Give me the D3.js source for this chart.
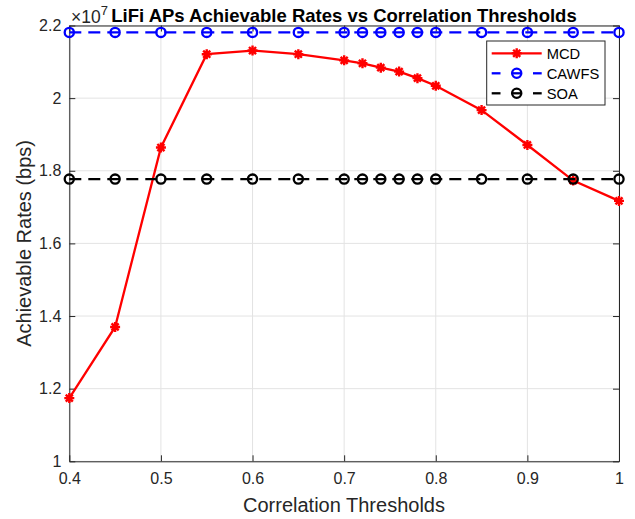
<!DOCTYPE html>
<html lang="en">
<head>
<meta charset="UTF-8">
<script src="https://cdn.jsdelivr.net/npm/d3@7"></script>
<style>
  body { margin: 0; background: #fff; }
  svg { font-family: "Liberation Sans", Arial, Helvetica, sans-serif; }
</style>
<title>LiFi APs Achievable Rates</title>
</head>
<body>
<svg width="635" height="519"></svg>
<script>
// data (rates in bps)
var thresholds = [0.4, 0.45, 0.5, 0.55, 0.6, 0.65, 0.7, 0.72, 0.74, 0.76, 0.78, 0.8, 0.85, 0.9, 0.95, 1.0];
var mcd   = [1.174e7, 1.370e7, 1.864e7, 2.121e7, 2.131e7, 2.121e7, 2.104e7, 2.096e7, 2.084e7, 2.073e7, 2.055e7, 2.034e7, 1.967e7, 1.871e7, 1.773e7, 1.717e7];
var cawfs = [2.181e7, 2.181e7, 2.181e7, 2.181e7, 2.181e7, 2.181e7, 2.181e7, 2.181e7, 2.181e7, 2.181e7, 2.181e7, 2.181e7, 2.181e7, 2.181e7, 2.181e7, 2.181e7];
var soa   = [1.777e7, 1.777e7, 1.777e7, 1.777e7, 1.777e7, 1.777e7, 1.777e7, 1.777e7, 1.777e7, 1.777e7, 1.777e7, 1.777e7, 1.777e7, 1.777e7, 1.777e7, 1.777e7];
var xTicks = [0.4, 0.5, 0.6, 0.7, 0.8, 0.9, 1];
var yTicks = [1e7, 1.2e7, 1.4e7, 1.6e7, 1.8e7, 2e7, 2.2e7];
var seriesNames = ["MCD", "CAWFS", "SOA"];

var svg = d3.select("svg");
var pLeft = 69.3, pRight = 619, pTop = 25.5, pBottom = 461.3;
var axisColor = "#262626";
var lw = 2.3;

var x = d3.scaleLinear().domain([0.4, 1]).range([pLeft, pRight]);
var y = d3.scaleLinear().domain([1e7, 2.2e7]).range([pBottom, pTop]);

// grid
var grid = svg.append("g").attr("stroke", "#e3e3e3").attr("stroke-width", 1);
grid.selectAll(".gx").data(xTicks).enter().append("line")
    .attr("x1", d => x(d)).attr("x2", d => x(d)).attr("y1", pTop).attr("y2", pBottom);
grid.selectAll(".gy").data(yTicks).enter().append("line")
    .attr("y1", d => y(d)).attr("y2", d => y(d)).attr("x1", pLeft).attr("x2", pRight);

// axes (box style, ticks inward)
function styleAxis(g) {
    g.select(".domain").attr("stroke", axisColor);
    g.selectAll(".tick line").attr("stroke", axisColor);
    g.selectAll(".tick text").attr("fill", axisColor).attr("font-size", "16px")
        .attr("font-family", "'Liberation Sans', Arial, sans-serif");
}
svg.append("g").attr("transform", "translate(0," + pBottom + ")")
    .call(d3.axisBottom(x).tickValues(xTicks).tickSize(-6).tickPadding(11).tickSizeOuter(0)
        .tickFormat(d => d === 1 ? "1" : d3.format(".1f")(d)))
    .call(styleAxis);
svg.append("g").attr("transform", "translate(0," + pTop + ")")
    .call(d3.axisTop(x).tickValues(xTicks).tickSize(-6).tickSizeOuter(0).tickFormat(""))
    .call(styleAxis);
svg.append("g").attr("transform", "translate(" + pLeft + ",0)")
    .call(d3.axisLeft(y).tickValues(yTicks).tickSize(-6).tickPadding(8).tickSizeOuter(0)
        .tickFormat(d => { var v = Math.round(d / 1e6) / 10; return v === 1 || v === 2 ? String(v) : v.toFixed(1); }))
    .call(styleAxis);
svg.append("g").attr("transform", "translate(" + pRight + ",0)")
    .call(d3.axisRight(y).tickValues(yTicks).tickSize(-6).tickSizeOuter(0).tickFormat(""))
    .call(styleAxis);

// lines
var series = [
    {name: seriesNames[0], values: mcd, color: "#ff0000", dash: null, marker: "star"},
    {name: seriesNames[1], values: cawfs, color: "#0000ff", dash: "12,7", marker: "circle"},
    {name: seriesNames[2], values: soa, color: "#000000", dash: "12,7", marker: "circle"}
];
var line = d3.line().x(d => x(d[0])).y(d => y(d[1]));

function asterisk(r) {
    var a = r * Math.SQRT1_2;
    return "M" + (-r) + ",0L" + r + ",0M0," + (-r) + "L0," + r +
        "M" + (-a) + "," + (-a) + "L" + a + "," + a + "M" + (-a) + "," + a + "L" + a + "," + (-a);
}
function drawMarker(g, s, cx, cy) {
    if (s.marker === "star") {
        g.append("path").attr("d", asterisk(5)).attr("transform", "translate(" + cx + "," + cy + ")")
            .attr("stroke", s.color).attr("stroke-width", 2.4).attr("fill", "none");
    } else {
        g.append("circle").attr("cx", cx).attr("cy", cy).attr("r", 4.6)
            .attr("stroke", s.color).attr("stroke-width", lw).attr("fill", "none");
    }
}

series.forEach(function (s) {
    var pts = thresholds.map((t, i) => [t, s.values[i]]);
    var g = svg.append("g");
    g.append("path").datum(pts).attr("d", line)
        .attr("fill", "none").attr("stroke", s.color).attr("stroke-width", lw)
        .attr("stroke-dasharray", s.dash);
    pts.forEach(p => drawMarker(g, s, x(p[0]), y(p[1])));
});

// legend
var lg = svg.append("g");
lg.append("rect").attr("x", 486.7).attr("y", 41).attr("width", 118.3).attr("height", 64)
    .attr("fill", "#fff").attr("stroke", axisColor).attr("stroke-width", 1);
series.forEach(function (s, i) {
    var ly = 53.3 + i * 20;
    var segs = s.dash ? [[491.7, 500.5], [533, 541.7]] : [[491.7, 541.7]];
    segs.forEach(function (sg) {
        lg.append("line").attr("x1", sg[0]).attr("x2", sg[1]).attr("y1", ly).attr("y2", ly)
            .attr("stroke", s.color).attr("stroke-width", lw);
    });
    if (s.dash) {
        lg.append("line").attr("x1", 512).attr("x2", 521.4).attr("y1", ly).attr("y2", ly)
            .attr("stroke", s.color).attr("stroke-width", lw);
    }
    drawMarker(lg, s, 516.7, ly);
    lg.append("text").attr("x", 546.7).attr("y", ly + 5.3).attr("font-size", "14.7px")
        .attr("fill", "#000").text(s.name);
});

// title and labels
svg.append("text").attr("x", 344).attr("y", 21.7).attr("text-anchor", "middle")
    .attr("font-size", "18.5px").attr("font-weight", "bold").attr("fill", "#000")
    .text("LiFi APs Achievable Rates vs Correlation Thresholds");
var exp = svg.append("text").attr("x", 71).attr("y", 22.5).attr("font-size", "17.5px").attr("fill", axisColor);
exp.append("tspan").text("\u00d710");
exp.append("tspan").attr("dy", -8).attr("font-size", "13px").text("7");

svg.append("text").attr("x", 344).attr("y", 512).attr("text-anchor", "middle")
    .attr("font-size", "20px").attr("fill", axisColor).text("Correlation Thresholds");
svg.append("text").attr("transform", "translate(31,243.4) rotate(-90)").attr("text-anchor", "middle")
    .attr("font-size", "20px").attr("fill", axisColor).text("Achievable Rates (bps)");
</script>
</body>
</html>
